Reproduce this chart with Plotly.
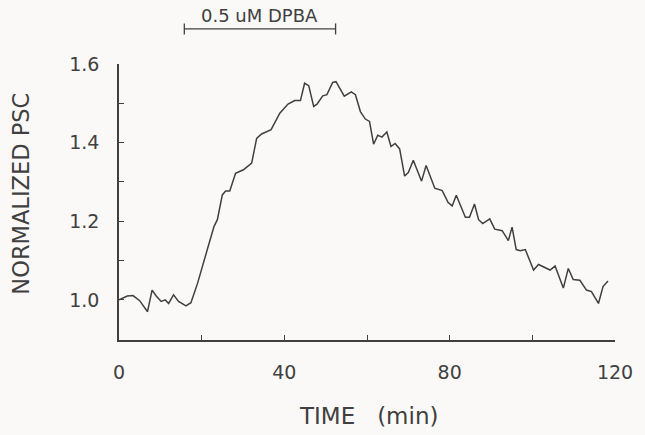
import plotly.graph_objects as go

# Normalized postsynaptic current over time (min)
time_min = [0, 2.0, 3.4, 5.0, 6.9, 8.0, 9.0, 10.2, 11.2, 12.0, 13.2, 14.4, 16.2, 17.4,
            19.0, 20.6, 21.8, 23.0, 23.8, 25.0, 25.8, 26.8, 28.2, 30.1, 32.1, 33.3,
            34.5, 36.8, 38.9, 40.9, 42.5, 43.9, 44.9, 45.9, 47.1, 47.9, 49.3, 50.3,
            51.7, 52.5, 54.5, 56.2, 57.2, 58.4, 59.6, 60.6, 61.6, 62.6, 63.6, 64.8,
            65.8, 66.8, 67.9, 69.1, 70.0, 71.2, 73.2, 74.3, 76.4, 78.2, 79.6, 80.6,
            81.6, 83.8, 84.8, 86.0, 87.0, 88.0, 89.7, 90.9, 92.7, 94.2, 95.1, 96.1,
            97.1, 98.3, 100.3, 101.5, 103.1, 104.3, 105.5, 107.5, 108.7, 109.9, 111.5,
            113.1, 114.3, 116.0, 117.1, 118.3]
norm_psc = [1.000, 1.010, 1.011, 0.998, 0.970, 1.025, 1.010, 0.996, 1.000, 0.991, 1.013,
            0.996, 0.985, 0.993, 1.042, 1.097, 1.144, 1.187, 1.204, 1.267, 1.277, 1.277,
            1.322, 1.331, 1.348, 1.411, 1.422, 1.433, 1.475, 1.498, 1.507, 1.507, 1.551,
            1.545, 1.492, 1.498, 1.519, 1.522, 1.553, 1.555, 1.518, 1.529, 1.522, 1.479,
            1.460, 1.454, 1.396, 1.419, 1.414, 1.427, 1.390, 1.398, 1.384, 1.315, 1.324,
            1.355, 1.302, 1.342, 1.284, 1.278, 1.248, 1.239, 1.266, 1.210, 1.210, 1.244,
            1.204, 1.194, 1.206, 1.180, 1.176, 1.151, 1.185, 1.128, 1.125, 1.128, 1.076,
            1.090, 1.081, 1.076, 1.086, 1.030, 1.080, 1.052, 1.050, 1.025, 1.021, 0.991,
            1.034, 1.048]

# Drug application window (min)
DPBA_START = 15.8
DPBA_END = 52.4
DPBA_LABEL = "0.5 uM DPBA"

x_ticks = [0, 40, 80, 120]
y_ticks = [1.0, 1.2, 1.4, 1.6]

INK = "#404040"
FONT = "DejaVu Sans"
BG = "#fbf9f7"

fig = go.Figure()
fig.add_trace(go.Scatter(x=time_min, y=norm_psc, mode="lines",
                         line=dict(color=INK, width=1.5), showlegend=False,
                         hoverinfo="skip"))

axis_common = dict(showgrid=False, zeroline=False, showline=True, linecolor=INK,
                   linewidth=1.5, ticks="inside", tickcolor=INK, ticklen=5,
                   tickwidth=1.3, tickfont=dict(family=FONT, size=19, color=INK))

fig.update_xaxes(range=[0, 120], tickvals=x_ticks,
                 minor=dict(dtick=20, ticks="inside", ticklen=5, tickcolor=INK,
                            tickwidth=1.3),
                 ticklabelstandoff=14, **axis_common)
fig.update_yaxes(range=[0.898, 1.6], tickvals=y_ticks, tickformat=".1f",
                 minor=dict(dtick=0.1, ticks="inside", ticklen=5, tickcolor=INK,
                            tickwidth=1.3),
                 ticklabelstandoff=14, **axis_common)

# Bar marking the drug application period, with end caps
bar_y = 1.127
cap = 0.02
fig.add_shape(type="line", xref="x", yref="paper", x0=DPBA_START, x1=DPBA_END,
              y0=bar_y, y1=bar_y, line=dict(color=INK, width=1.3))
for xe in (DPBA_START, DPBA_END):
    fig.add_shape(type="line", xref="x", yref="paper", x0=xe, x1=xe,
                  y0=bar_y - cap, y1=bar_y + cap, line=dict(color=INK, width=1.3))

fig.add_annotation(x=(DPBA_START + DPBA_END) / 2, y=bar_y + 0.002, xref="x",
                   yref="paper", text=DPBA_LABEL, showarrow=False, yanchor="bottom",
                   font=dict(family=FONT, size=18, color=INK))

# Axis titles
fig.add_annotation(x=-0.228, y=0.53, xref="paper", yref="paper",
                   text="NORMALIZED PSC", showarrow=False, textangle=-90,
                   font=dict(family=FONT, size=22.5, color=INK))
fig.add_annotation(x=0.503, y=-0.33, xref="paper", yref="paper",
                   text="TIME&nbsp;&nbsp;&nbsp;(min)", showarrow=False,
                   font=dict(family=FONT, size=23, color=INK))

fig.update_layout(width=645, height=435, paper_bgcolor=BG, plot_bgcolor=BG,
                  margin=dict(l=119, r=23, t=64, b=95))

fig.write_html("out.html")
